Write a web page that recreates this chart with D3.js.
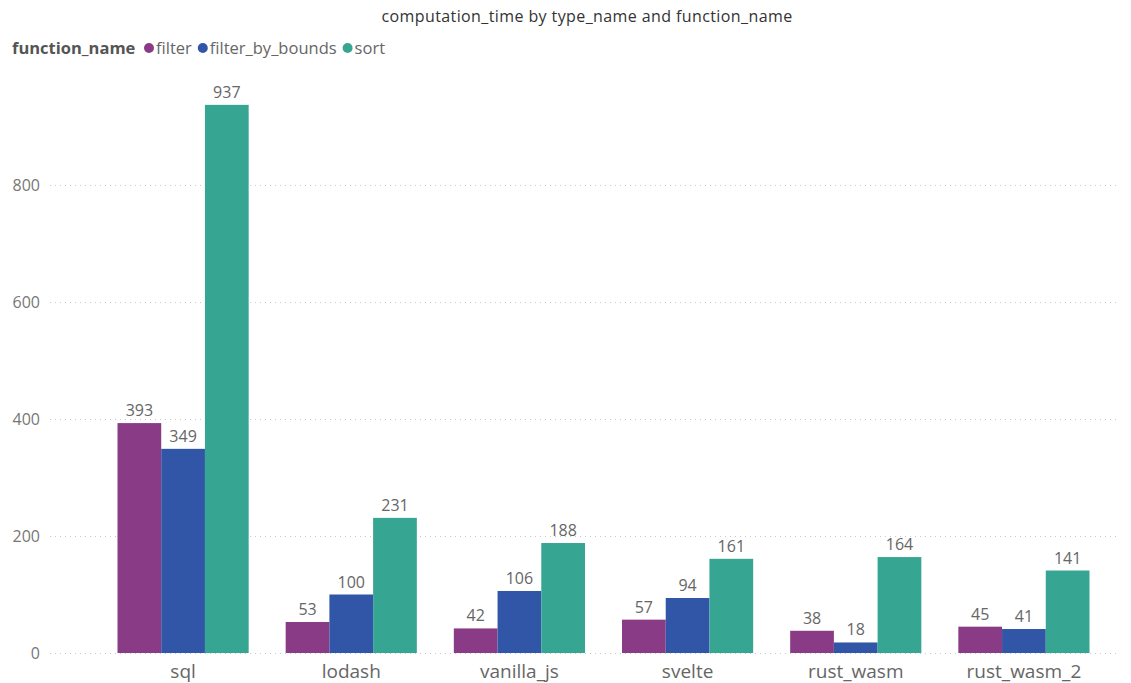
<!DOCTYPE html>
<html>
<head>
<meta charset="utf-8">
<script src="https://cdn.jsdelivr.net/npm/d3@7"></script>
<style>
  body { margin: 0; background: #fff; }
  text { font-family: "Open Sans", "Noto Sans", sans-serif; }
</style>
</head>
<body>
<div id="chart"></div>
<script>
// data
const types = ["sql", "lodash", "vanilla_js", "svelte", "rust_wasm", "rust_wasm_2"];
const functions = ["filter", "filter_by_bounds", "sort"];
const filterVals = [393, 53, 42, 57, 38, 45];
const boundsVals = [349, 100, 106, 94, 18, 41];
const sortVals = [937, 231, 188, 161, 164, 141];
const yTicks = [0, 200, 400, 600, 800];
const colors = ["#8a3b86", "#3156a8", "#36a693"];

const W = 1131, H = 683;
const svg = d3.select("#chart").append("svg")
    .attr("width", W)
    .attr("height", H);

const series = [filterVals, boundsVals, sortVals];
const rows = [];
types.forEach((t, i) => {
  functions.forEach((f, j) => rows.push({type: t, fn: f, value: series[j][i]}));
});

// scales
const x = d3.scaleBand()
    .domain(types)
    .range([99, 1108])
    .paddingInner(0.22)
    .paddingOuter(0.11);
const xs = d3.scaleBand()
    .domain(functions)
    .range([0, x.bandwidth()]);
const y = d3.scaleLinear()
    .domain([0, 800])
    .range([653, 185]);
const color = d3.scaleOrdinal().domain(functions).range(colors);

// title
svg.append("text")
    .attr("x", 587).attr("y", 22)
    .attr("text-anchor", "middle")
    .attr("font-size", 16)
    .attr("letter-spacing", 0.4)
    .attr("fill", "#333")
    .text("computation_time by type_name and function_name");

// legend
const leg = svg.append("g").attr("transform", "translate(12,54)");
leg.append("text")
    .attr("font-size", 16.5).attr("font-weight", "bold")
    .attr("fill", "#555")
    .text("function_name");
let lx = 137;
functions.forEach((f, i) => {
  leg.append("circle").attr("cx", lx).attr("cy", -6).attr("r", 5).attr("fill", colors[i]);
  const t = leg.append("text").attr("x", lx + 7).attr("font-size", 16.5).attr("fill", "#666").text(f);
  lx += 7 + t.node().getComputedTextLength() + 11;
});

// y axis + grid
const yAxis = svg.append("g")
    .attr("transform", "translate(50,0)")
    .call(d3.axisLeft(y).tickValues(yTicks).tickSize(-1070).tickPadding(10));
yAxis.select(".domain").remove();
yAxis.selectAll(".tick line")
    .attr("stroke", "#c8c8c8")
    .attr("stroke-dasharray", "1,4");
yAxis.selectAll(".tick text")
    .attr("font-size", 16)
    .attr("fill", "#777")
    .attr("x", -10);

// x axis
const xAxis = svg.append("g")
    .attr("transform", "translate(0,653)")
    .call(d3.axisBottom(x).tickSize(0).tickPadding(12));
xAxis.select(".domain").remove();
xAxis.selectAll(".tick text")
    .attr("font-size", 19)
    .attr("fill", "#666");

// bars
svg.append("g")
  .selectAll("rect")
  .data(rows)
  .join("rect")
    .attr("x", d => x(d.type) + xs(d.fn))
    .attr("y", d => y(d.value))
    .attr("width", xs.bandwidth())
    .attr("height", d => y(0) - y(d.value))
    .attr("fill", d => color(d.fn));

// value labels
svg.append("g")
  .selectAll("text")
  .data(rows)
  .join("text")
    .attr("x", d => x(d.type) + xs(d.fn) + xs.bandwidth() / 2)
    .attr("y", d => y(d.value) - 7)
    .attr("text-anchor", "middle")
    .attr("font-size", 16)
    .attr("fill", "#666")
    .text(d => d.value);
</script>
</body>
</html>
